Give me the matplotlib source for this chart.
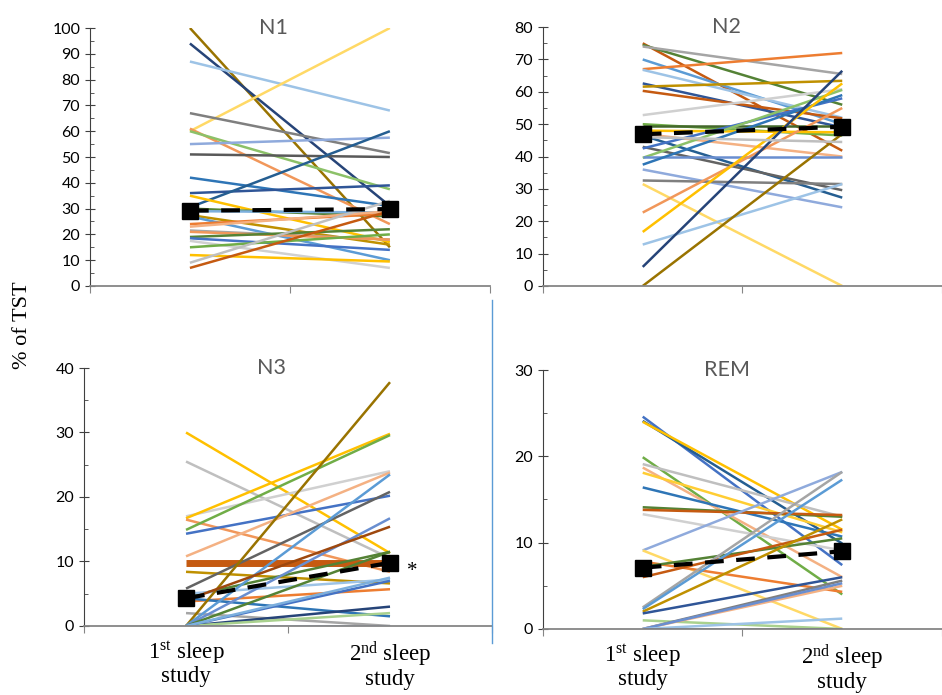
import numpy as np
import matplotlib.pyplot as plt
from matplotlib.lines import Line2D
from matplotlib.ticker import MultipleLocator

plt.rcParams['font.family'] = ['Lato', 'DejaVu Sans']
plt.rcParams['mathtext.fontset'] = 'custom'
plt.rcParams['mathtext.rm'] = 'Liberation Serif'
plt.rcParams['mathtext.it'] = 'Liberation Serif:italic'

# % of TST per subject, 1st vs 2nd sleep study
n1_first = [100, 94, 87, 60, 67, 61, 60, 55, 51, 42, 36, 30.5, 35, 30, 29, 27.5, 27,
            24, 23, 21.5, 21, 19, 18.5, 17.5, 15, 12, 9, 7]
n1_second = [15, 31, 68, 100, 51.5, 24, 37.5, 57.5, 50, 31, 39, 60, 17, 27, 28.5, 16, 10,
             28, 29, 18, 18, 22, 14, 7, 20, 9.5, 33, 29]
n1_colors = ['#997300', '#264478', '#9DC3E6', '#FFD966', '#7F7F7F', '#F1975A', '#8CC168',
             '#8FAADC', '#595959', '#2E75B6', '#2F5597', '#255E91', '#FFC000', '#548235',
             '#7CAFDD', '#BF9000', '#5B9BD5', '#ED7D31', '#F4B183', '#A5A5A5', '#F1975A',
             '#548235', '#4472C4', '#D0D0D0', '#70AD47', '#FFC000', '#BFBFBF', '#C55A11']

n2_first = [75, 74.5, 74, 70, 67, 66.8, 62.6, 61.6, 60.3, 52.8, 50, 49.5, 48, 47, 46.5,
            43, 42.5, 39.6, 40, 37.5, 36, 32.6, 31.5, 22.7, 16.7, 12.8, 5.9, 0, 46]
n2_second = [41.8, 56, 65.5, 50, 72, 52, 49, 63.4, 51.8, 60.8, 46.5, 49.5, 47.5, 40, 27.3,
             29.6, 58, 60.6, 40, 59, 24.3, 31.5, 0, 55, 62.6, 31.5, 66.5, 47, 44.5]
n2_colors = ['#C55A11', '#548235', '#A5A5A5', '#5B9BD5', '#ED7D31', '#9DC3E6', '#2F5597',
             '#BF9000', '#C55A11', '#D0D0D0', '#70AD47', '#43682B', '#FFC000', '#F4B183',
             '#255E91', '#636363', '#4472C4', '#8CC168', '#698ED0', '#2E75B6', '#8FAADC',
             '#7F7F7F', '#FFD966', '#F1975A', '#FFC000', '#9DC3E6', '#264478', '#997300',
             '#BFBFBF']

n3_first = [30, 25.5, 17, 16.7, 16.5, 14.9, 14.3, 10.8, 9.7, 8.4, 5.8, 4.5, 3.8, 5, 4.3,
            2, 0, 0, 0, 4, 0, 0, 0, 0, 0, 0]
n3_second = [11.3, 10.5, 24, 29.8, 8.4, 29.6, 20.2, 23.8, 9.7, 6.6, 20.8, 11.5, 5.7, 7.2,
             1.5, 0, 37.8, 23.5, 16.7, 15.4, 11.5, 3, 2, 7, 0, 7.5]
n3_colors = ['#FFC000', '#BFBFBF', '#D0D0D0', '#FFC000', '#F1975A', '#70AD47', '#4472C4',
             '#F4B183', '#C55A11', '#BF9000', '#636363', '#548235', '#ED7D31', '#9DC3E6',
             '#2E75B6', '#A5A5A5', '#997300', '#5B9BD5', '#698ED0', '#9E480E', '#548235',
             '#264478', '#A9D18E', '#4472C4', '#8FAADC', '#7CAFDD']

rem_first = [24.6, 24.1, 24, 19.9, 19.1, 18.7, 18.1, 16.4, 14.1, 13.8, 13.3, 9.1, 9.1,
             7.8, 7.2, 6, 2.5, 2.3, 2, 1.8, 1, 0, 0, 0, 0, 0]
rem_second = [7.4, 9.9, 11.5, 4, 13, 6, 11.2, 10.7, 13, 13.2, 9.1, 18.2, 0, 4.3, 10.5,
              11.5, 18.2, 17.3, 12.7, 6, 0, 5.6, 5, 5.3, 1.2, 0]
rem_colors = ['#4472C4', '#255E91', '#FFC000', '#70AD47', '#BFBFBF', '#F4B183', '#FFCD33',
              '#2E75B6', '#548235', '#C55A11', '#D0D0D0', '#8FAADC', '#FFD966', '#ED7D31',
              '#548235', '#C55A11', '#A5A5A5', '#5B9BD5', '#BF9000', '#2F5597', '#A9D18E',
              '#7F7F7F', '#F4B183', '#698ED0', '#9DC3E6', '#264478']

mean_n1 = [29.2, 29.8]
mean_n2 = [46.9, 49.2]
mean_n3 = [4.3, 9.8]
mean_rem = [7.1, 9.0]

xlabels = ['1$^{\\rm st}$ sleep\nstudy', '2$^{\\rm nd}$ sleep\nstudy']

fig = plt.figure(figsize=(9.42, 6.95), dpi=100)
panels = [
    ('N1', n1_first, n1_second, n1_colors, mean_n1, 100, [0.0955, 0.5885, 0.4245, 0.3712], False),
    ('N2', n2_first, n2_second, n2_colors, mean_n2, 80, [0.5764, 0.5885, 0.4236, 0.3725], False),
    ('N3', n3_first, n3_second, n3_colors, mean_n3, 40, [0.0892, 0.0993, 0.4331, 0.3712], True),
    ('REM', rem_first, rem_second, rem_colors, mean_rem, 30, [0.5764, 0.0950, 0.4236, 0.3726], True),
]

for name, first, second, colors, mean, ymax, pos, show_x in panels:
    ax = fig.add_axes(pos)
    for a, b, c in zip(first, second, colors):
        lw = 5 if (name == 'N3' and a == b == 9.7) else 1.8
        ax.plot([1, 2], [a, b], color=c, lw=lw, solid_capstyle='butt')
    ax.plot([1, 2], mean, color='black', lw=3, ls=(0, (4.5, 3)), marker='s',
            markersize=11, zorder=10)
    if name == 'N3':
        ax.annotate('*', (2, mean[1]), xytext=(12, -6), textcoords='offset points',
                    fontsize=15, family='Liberation Serif', va='center')

    ax.set_xlim(0.5, 2.5)
    ax.set_ylim(0, ymax)
    ax.yaxis.set_major_locator(MultipleLocator(10))
    ax.yaxis.set_minor_locator(MultipleLocator(5))
    ax.set_xticks([0.5, 1.5, 2.5])
    ax.set_xticklabels([])
    ax.tick_params(axis='x', which='major', length=5, color='#868686')
    if show_x:
        ax.set_xticks([1, 2], minor=True)
        ax.set_xticklabels(xlabels, minor=True, fontsize=16.5, family='Liberation Serif',
                           linespacing=1.0)
        ax.tick_params(axis='x', which='minor', length=0, pad=10)
    ax.tick_params(axis='y', which='major', direction='inout', length=7, labelsize=11.5,
                   color='#404040')
    ax.tick_params(axis='y', which='minor', direction='in', length=3, color='#404040')
    for s in ['top', 'right']:
        ax.spines[s].set_visible(False)
    ax.spines['left'].set_color('#404040')
    ax.spines['bottom'].set_color('#868686')
    ax.spines['bottom'].set_linewidth(1.3)
    ax.text(0.46, 1.0, name, transform=ax.transAxes, ha='center', va='center',
            fontsize=15.5, color='#595959')

fig.text(0.024, 0.532, '% of TST', rotation=90, ha='center', va='center',
         fontsize=16, family='Liberation Serif')
fig.add_artist(Line2D([0.522, 0.522], [0.075, 0.568], transform=fig.transFigure,
                      color='#5B9BD5', lw=1))

plt.savefig('out.png', dpi=100)
